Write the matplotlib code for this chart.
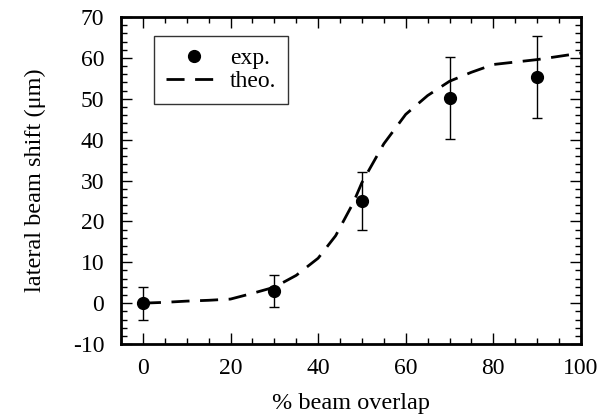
import matplotlib
matplotlib.use("Agg")
from matplotlib import pyplot as plt
from matplotlib.ticker import MultipleLocator
from matplotlib.lines import Line2D

plt.rcParams["font.family"] = ["Liberation Serif", "DejaVu Serif"]
plt.rcParams["axes.unicode_minus"] = False

# experimental points
exp_x = [0, 30, 50, 70, 90]
exp_y = [0, 3, 25, 50.2, 55.4]
exp_err = [4, 4, 7, 10, 10]

# theoretical curve
theo_x = [0, 5, 10, 15, 20, 25, 30, 35, 40, 44, 48, 50, 55, 60, 65, 70, 75, 80, 85, 90, 95, 100]
theo_y = [0, 0.2, 0.5, 0.7, 1.0, 2.4, 3.9, 6.8, 11.0, 16.5, 24.5, 29.5, 39.0, 46.2, 50.8, 54.3, 56.5, 58.4, 59.0, 59.6, 60.4, 61.2]

fig = plt.figure(figsize=(6.02, 4.17), dpi=100)
ax = fig.add_axes([0.201, 0.175, 0.764, 0.784])

dash = (0, (6.5, 3.8))
ax.plot(theo_x, theo_y, linestyle=dash, linewidth=2, color="black")
ax.errorbar(exp_x, exp_y, yerr=exp_err, fmt="o", color="black", markersize=8.5,
            elinewidth=1, capsize=3.5, capthick=1)

ax.set_xlim(-5, 100)
ax.set_ylim(-10, 70)
ax.xaxis.set_major_locator(MultipleLocator(20))
ax.xaxis.set_minor_locator(MultipleLocator(5))
ax.yaxis.set_major_locator(MultipleLocator(10))
ax.yaxis.set_minor_locator(MultipleLocator(2))
ax.tick_params(which="both", direction="in", top=True, right=True, labelsize=17, width=1)
ax.tick_params(which="major", length=8)
ax.tick_params(which="minor", length=4)
ax.tick_params(axis="x", which="major", pad=10)
ax.tick_params(axis="y", which="major", pad=12)
for sp in ax.spines.values():
    sp.set_linewidth(2)

ax.set_xlabel("% beam overlap", fontsize=17.5, labelpad=10)
ax.set_ylabel("lateral beam shift (\u03bcm)", fontsize=17.5, labelpad=19)

h_exp = Line2D([], [], marker="o", linestyle="none", color="black", markersize=8.5)
h_theo = Line2D([], [], linestyle=dash, linewidth=2, color="black")
leg = ax.legend([h_exp, h_theo], ["exp.", "theo."], loc="upper left",
                bbox_to_anchor=(0.072, 0.942), fontsize=17, frameon=True,
                fancybox=False, edgecolor="black", handlelength=2.4,
                borderpad=0.5, labelspacing=0.05, handletextpad=0.3,
                borderaxespad=0)
leg.get_frame().set_linewidth(1)

plt.savefig("out.png", dpi=100)
